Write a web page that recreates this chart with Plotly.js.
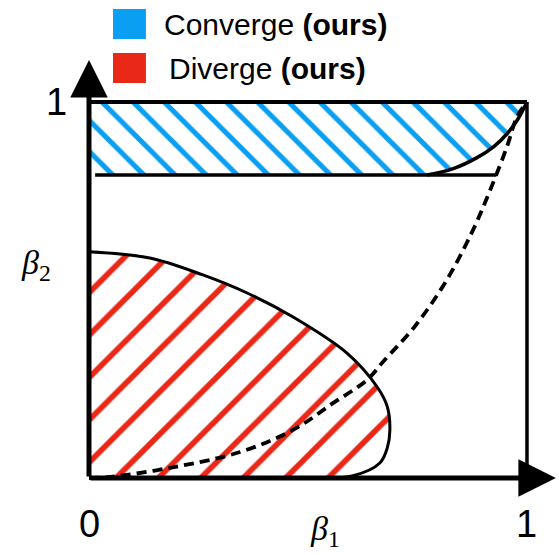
<!DOCTYPE html>
<html>
<head>
<meta charset="utf-8">
<script src="https://cdn.plot.ly/plotly-3.0.1.min.js"></script>
<style>html,body{margin:0;padding:0;background:#fff;}#chart{width:559px;height:555px;}</style>
</head>
<body>
<div id="chart"></div>
<script>
// ---- data ----
const legendLabels = ["Converge <b>(ours)</b>", "Diverge <b>(ours)</b>"];
const regionColors = ["#0a9ff2", "#ea2818"];
const tickLabels = ["0", "1"];
const tickValues = [0, 1];
const axisTitles = ["<i>β</i><sub>1</sub>", "<i>β</i><sub>2</sub>"];

// converge region: between β2 = 1 and the lower bound, up to the curved corner
const convergeLowerY = 0.806;
const convergeLowerEndX = 0.93;
const convergeCurveX = [0.772, 0.83, 0.886, 0.925, 0.954, 0.978, 1.0];
const convergeCurveY = [0.806, 0.822, 0.852, 0.882, 0.915, 0.952, 1.0];

// diverge region boundary (from β2 axis to β1 axis)
const divergeX = [0, 0.139, 0.26, 0.361, 0.466, 0.589, 0.658, 0.681, 0.687, 0.681, 0.664, 0.603, 0.53];
const divergeY = [0.602, 0.585, 0.540, 0.492, 0.428, 0.332, 0.242, 0.19, 0.128, 0.08, 0.040, 0.006, 0];

// dashed boundary curve
const dashX = [0, 0.05, 0.185, 0.345, 0.466, 0.557, 0.635, 0.672, 0.745, 0.817, 0.877, 0.916, 0.954, 0.977, 1.0];
const dashY = [0, 0.003, 0.027, 0.069, 0.128, 0.199, 0.261, 0.31, 0.405, 0.527, 0.660, 0.766, 0.880, 0.960, 1.0];

// ---- build traces ----
const blk = "#000000";
const traces = [];

traces.push({
  type: "scatter", mode: "lines",
  x: [0].concat(convergeCurveX, [0]),
  y: [convergeLowerY].concat(convergeCurveY, [1]),
  fill: "toself", fillcolor: "rgba(255,255,255,0)",
  fillpattern: {shape: "\\", fgcolor: regionColors[0], bgcolor: "rgba(255,255,255,0)", size: 22, solidity: 0.23},
  line: {width: 0}, hoverinfo: "skip"
});
traces.push({
  type: "scatter", mode: "lines",
  x: [0].concat(divergeX, [0]),
  y: [0].concat(divergeY, [0]),
  fill: "toself", fillcolor: "rgba(255,255,255,0)",
  fillpattern: {shape: "/", fgcolor: regionColors[1], bgcolor: "rgba(255,255,255,0)", size: 30, solidity: 0.19},
  line: {width: 0}, hoverinfo: "skip"
});
traces.push({type: "scatter", mode: "lines", x: [0, 1], y: [1, 1], line: {color: blk, width: 4}, hoverinfo: "skip"});
traces.push({type: "scatter", mode: "lines", x: [0.014, convergeLowerEndX], y: [convergeLowerY, convergeLowerY], line: {color: blk, width: 3.5}, hoverinfo: "skip"});
traces.push({type: "scatter", mode: "lines", x: convergeCurveX, y: convergeCurveY, line: {color: blk, width: 3.5, shape: "spline"}, hoverinfo: "skip"});
traces.push({type: "scatter", mode: "lines", x: [1, 1], y: [0, 1], line: {color: blk, width: 3.5}, hoverinfo: "skip"});
traces.push({type: "scatter", mode: "lines", x: divergeX, y: divergeY, line: {color: blk, width: 3, shape: "spline"}, hoverinfo: "skip"});
traces.push({type: "scatter", mode: "lines", x: dashX, y: dashY, line: {color: blk, width: 3.8, dash: "10px,6px", shape: "spline"}, hoverinfo: "skip"});

// ---- layout ----
const font = "Liberation Sans, Arial, Helvetica, sans-serif";
const serif = "Liberation Serif, DejaVu Serif, serif";
const annotations = [
  {x: 1.066, y: 0, ax: 0, ay: 0, axref: "x", ayref: "y", xref: "x", yref: "y", text: "", showarrow: true, arrowhead: 2, arrowsize: 1.5, arrowwidth: 5, arrowcolor: blk},
  {x: 0, y: 1.112, ax: 0, ay: 0, axref: "x", ayref: "y", xref: "x", yref: "y", text: "", showarrow: true, arrowhead: 2, arrowsize: 1.5, arrowwidth: 5, arrowcolor: blk},
  {x: tickValues[0], y: -0.122, xref: "x", yref: "y", text: tickLabels[0], showarrow: false, font: {family: font, size: 38, color: blk}},
  {x: tickValues[1], y: -0.122, xref: "x", yref: "y", text: tickLabels[1], showarrow: false, font: {family: font, size: 38, color: blk}},
  {x: -0.075, y: tickValues[1], xref: "x", yref: "y", text: tickLabels[1], showarrow: false, font: {family: font, size: 38, color: blk}},
  {x: 0.539, y: -0.142, xref: "x", yref: "y", text: axisTitles[0], showarrow: false, font: {family: serif, size: 34, color: blk}},
  {x: -0.121, y: 0.566, xref: "x", yref: "y", text: axisTitles[1], showarrow: false, font: {family: serif, size: 34, color: blk}},
  {x: 0.1667, y: 1.2074, xref: "x", yref: "y", xanchor: "left", text: legendLabels[0], showarrow: false, font: {family: font, size: 30, color: blk}},
  {x: 0.1780, y: 1.0904, xref: "x", yref: "y", xanchor: "left", text: legendLabels[1], showarrow: false, font: {family: font, size: 30, color: blk}}
];
const shapes = [
  {type: "rect", xref: "x", yref: "y", x0: 0.0548, x1: 0.130, y0: 1.1676, y1: 1.2473, fillcolor: regionColors[0], line: {width: 0}},
  {type: "rect", xref: "x", yref: "y", x0: 0.0548, x1: 0.130, y0: 1.0505, y1: 1.1303, fillcolor: regionColors[1], line: {width: 0}}
];

const layout = {
  width: 559, height: 555,
  margin: {l: 0, r: 0, t: 0, b: 0, pad: 0},
  paper_bgcolor: "#ffffff", plot_bgcolor: "#ffffff",
  showlegend: false,
  xaxis: {range: [-0.2032, 1.0731], visible: false, fixedrange: true},
  yaxis: {range: [-0.2048, 1.2713], visible: false, fixedrange: true},
  annotations: annotations,
  shapes: shapes
};

Plotly.newPlot("chart", traces, layout, {staticPlot: true, displayModeBar: false});
</script>
</body>
</html>
